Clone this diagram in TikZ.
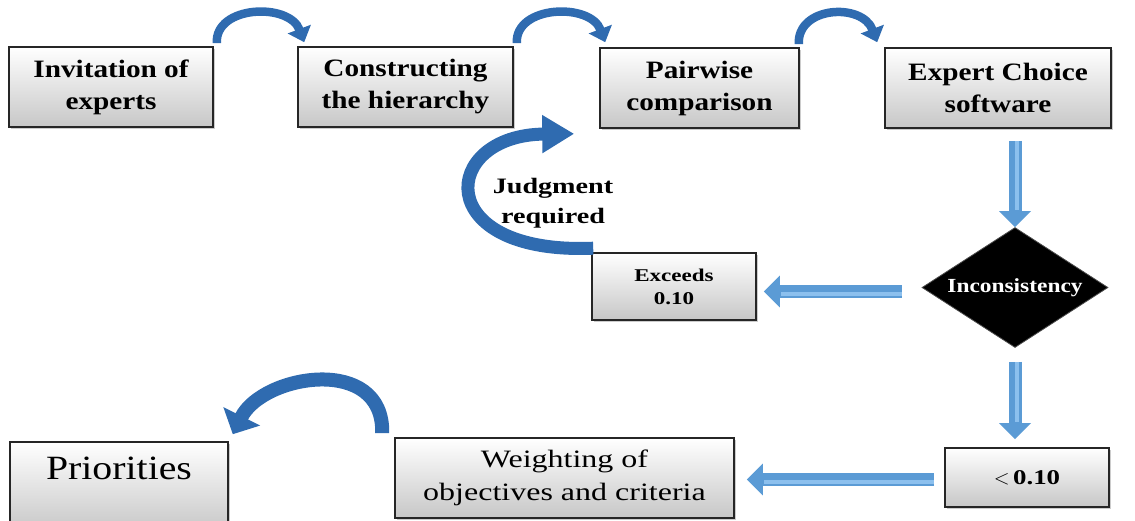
\documentclass[tikz,border=0pt]{standalone}
\usepackage{fontspec}
\setmainfont{Liberation Serif}[FakeStretch=1.17]
\newfontfamily\widefont{Liberation Serif}[FakeStretch=1.28]
\usetikzlibrary{arrows.meta,shadows,shapes.geometric}

\definecolor{arrowdark}{HTML}{2F6BB0}
\definecolor{arrowlight}{HTML}{5B9BD5}
\definecolor{arrowshine}{HTML}{8CC0EE}

\tikzset{
  box/.style={draw=black!85, line width=1.6pt, top color=white, bottom color=black!22,
    inner sep=0pt, align=center,
    drop shadow={shadow xshift=2pt, shadow yshift=-2pt, opacity=0.4}},
  stepfont/.style={font=\bfseries\fontsize{25}{32}\selectfont},
  curvearrow/.style={draw=arrowdark, line width=8.5pt, -{Triangle[width=24pt,length=14pt]}},
  loopshaft/.style={draw=arrowdark, line width=13pt},
  blockarrow/.style={draw=arrowlight, line width=13pt, -{Triangle[width=31pt,length=16pt]}},
  shine/.style={draw=arrowshine, line width=4pt},
}

\begin{document}
\begin{tikzpicture}[x=1pt,y=-1pt]
\useasboundingbox (0,0) rectangle (1135,520);

% process steps along the top
\node[box, stepfont, minimum width=204pt, minimum height=80pt] (b1) at (111,87) {Invitation of\\experts};
\node[box, stepfont, minimum width=215pt, minimum height=80pt] (b2) at (405.5,87) {Constructing\\the hierarchy};
\node[box, stepfont, minimum width=199pt, minimum height=80pt] (b3) at (699.5,88) {Pairwise\\comparison};
\node[box, stepfont, minimum width=226pt, minimum height=80pt] (b4) at (998,88) {Expert Choice\\software};

% consistency check
\node[diamond, shape aspect=1.55, fill=black, draw=black!70, line width=0.8pt,
      minimum width=186pt, minimum height=120pt, inner sep=0pt, text=white,
      font=\bfseries\fontsize{20}{24}\selectfont] (dia) at (1015,287.5) {Inconsistency};

\node[box, minimum width=164pt, minimum height=67pt,
      font=\widefont\bfseries\fontsize{18}{23}\selectfont] (exc) at (674,286.5) {Exceeds\\0.10};
\node[align=center, font=\widefont\bfseries\fontsize{22}{30}\selectfont] (jt) at (553,203) {Judgment\\required};

\node[box, minimum width=164pt, minimum height=59pt,
      font=\widefont\fontsize{21}{26}\selectfont] (lt) at (1027,477.5) {$<$\,\textbf{0.10}};
\node[box, minimum width=339pt, minimum height=80pt,
      font=\widefont\fontsize{25}{33}\selectfont] (wt) at (564.5,478) {Weighting of\\objectives and criteria};
\node[box, minimum width=218pt, minimum height=90pt, text height=24pt, text depth=39pt,
      font=\fontsize{34}{40}\selectfont] (pr) at (119,487) {Priorities};

% curved arrows between the top steps
\draw[curvearrow] ([shift={(3,-3)}]b1.north east) .. controls +(-2,-38) and +(-15,-40) .. ([shift={(7,-4)}]b2.north west);
\draw[curvearrow] ([shift={(3,-3)}]b2.north east) .. controls +(-2,-38) and +(-15,-40) .. ([shift={(6,-5)}]b3.north west);
\draw[curvearrow] ([shift={(-1,-3)}]b3.north east) .. controls +(-2,-38) and +(-15,-40) .. ([shift={(-7,-5)}]b4.north west);

% straight block arrows
\coordinate (v1s) at (dia.north |- b4.south);
\draw[blockarrow] ([yshift=-12pt]v1s) -- (dia.north);
\draw[shine, shorten >=17pt] ([shift={(2,12)}]v1s) -- ([xshift=2pt]dia.north);

\coordinate (h1e) at (exc.east |- dia.west);
\draw[blockarrow] ([shift={(-20,4)}]dia.west) -- ([shift={(7,4)}]h1e);
\draw[shine, shorten >=17pt] ([shift={(-20,6)}]dia.west) -- ([shift={(7,6)}]h1e);

\coordinate (v2e) at (dia.south |- lt.north);
\draw[blockarrow] ([yshift=-14pt]dia.south) -- ([yshift=8pt]v2e);
\draw[shine, shorten >=17pt] ([shift={(2,14)}]dia.south) -- ([shift={(2,-8)}]v2e);

\coordinate (h2e) at (wt.east |- lt.west);
\draw[blockarrow] ([shift={(-10,2)}]lt.west) -- ([shift={(12,2)}]h2e);
\draw[shine, shorten >=17pt] ([shift={(-10,4)}]lt.west) -- ([shift={(12,4)}]h2e);

% feedback loop back to the pairwise comparison
\coordinate (jtip) at ([shift={(-25,5)}]b3.south west);
\draw[loopshaft, -{Triangle[width=36pt,length=32pt]}]
  ([shift={(2,-4)}]exc.north west) .. controls (430,255) and (440,135) .. (jtip);

% final arrow to the priorities
\draw[draw=arrowdark, line width=14pt, -{Triangle[width=40pt,length=20pt]}]
  ([shift={(-12,-4)}]wt.north west) .. controls +(2,-79) and +(30,-60) .. ([shift={(4,-7)}]pr.north east);
\end{tikzpicture}
\end{document}
